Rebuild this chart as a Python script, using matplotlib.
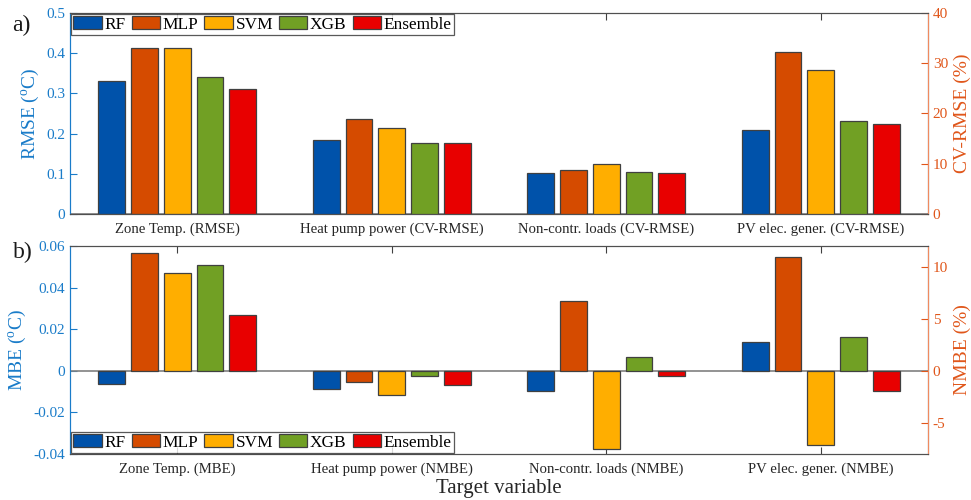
import matplotlib
matplotlib.use('Agg')
import matplotlib.pyplot as plt
import numpy as np

plt.rcParams['font.family'] = ['Liberation Serif', 'DejaVu Serif']
plt.rcParams['mathtext.fontset'] = 'custom'
plt.rcParams['mathtext.rm'] = 'Liberation Serif'
plt.rcParams['mathtext.it'] = 'Liberation Serif:italic'
plt.rcParams['axes.unicode_minus'] = False

models = ['RF', 'MLP', 'SVM', 'XGB', 'Ensemble']
colors = ['#0052AA', '#D54B00', '#FFAE00', '#71A024', '#E80000']

cats_a = ['Zone Temp. (RMSE)', 'Heat pump power (CV-RMSE)',
          'Non-contr. loads (CV-RMSE)', 'PV elec. gener. (CV-RMSE)']
cats_b = ['Zone Temp. (MBE)', 'Heat pump power (NMBE)',
          'Non-contr. loads (NMBE)', 'PV elec. gener. (NMBE)']

# a) zone temp RMSE in degC (left axis), others CV-RMSE in % (right axis)
rmse_zone = [0.332, 0.413, 0.413, 0.340, 0.311]
cvrmse_hp = [14.7, 19.0, 17.1, 14.2, 14.2]
cvrmse_load = [8.2, 8.8, 9.95, 8.3, 8.1]
cvrmse_pv = [16.7, 32.2, 28.6, 18.5, 17.9]

# b) zone temp MBE in degC (left axis), others NMBE in % (right axis)
mbe_zone = [-0.0064, 0.0565, 0.0472, 0.0507, 0.0267]
nmbe_hp = [-1.73, -1.12, -2.34, -0.54, -1.35]
nmbe_load = [-1.92, 6.71, -7.51, 1.31, -0.48]
nmbe_pv = [2.78, 10.9, -7.16, 3.23, -1.98]

yt_a = [0, 0.1, 0.2, 0.3, 0.4, 0.5]
yt_a_lbl = ['0', '0.1', '0.2', '0.3', '0.4', '0.5']
yt_a2 = [0, 10, 20, 30, 40]
yt_b = [-0.04, -0.02, 0, 0.02, 0.04, 0.06]
yt_b_lbl = ['-0.04', '-0.02', '0', '0.02', '0.04', '0.06']
yt_b2 = [-5, 0, 5, 10]

BLUE = '#1A7CC9'
ORANGE = '#E0561A'
EDGE = '#404040'

fig = plt.figure(figsize=(9.71, 5.0), dpi=100)
ax_a = fig.add_axes([0.0721, 0.572, 0.8836, 0.402])
ax_b = fig.add_axes([0.0721, 0.092, 0.8836, 0.416])

x = np.arange(1, 5)
step = 0.153
width = 0.125


def draw_panel(ax, left_vals, right_sets, cats, ylim_l, ylim_r, yticks_l, ylbls_l,
               yticks_r, ylabel_l, ylabel_r, legend_loc):
    ax2 = ax.twinx()
    handles = []
    for i, m in enumerate(models):
        off = (i - 2) * step
        h = ax.bar(x[0] + off, left_vals[i], width, color=colors[i],
                   edgecolor=EDGE, linewidth=0.9, label=m, zorder=3)
        handles.append(h)
        rv = [s[i] for s in right_sets]
        ax2.bar(x[1:] + off, rv, width, color=colors[i],
                edgecolor=EDGE, linewidth=0.9, zorder=3)
    ax.set_xlim(0.5, 4.5)
    ax.set_ylim(*ylim_l)
    ax2.set_ylim(*ylim_r)
    ax.set_yticks(yticks_l)
    ax.set_yticklabels(ylbls_l)
    ax2.set_yticks(yticks_r)
    ax.set_xticks(x)
    ax.set_xticklabels(cats, fontsize=10.6)
    ax.tick_params(axis='x', direction='in', length=5, top=True, color='#404040',
                   pad=6, colors='#262626')
    ax.tick_params(axis='y', direction='in', length=5, colors=BLUE, labelsize=11)
    ax2.tick_params(axis='y', direction='in', length=5, colors=ORANGE, labelsize=11)
    ax.set_ylabel(ylabel_l, color=BLUE, fontsize=14, labelpad=4)
    ax2.set_ylabel(ylabel_r, color=ORANGE, fontsize=14, labelpad=4)
    for sp in ['top', 'bottom']:
        ax2.spines[sp].set_color('#505050')
        ax.spines[sp].set_color('#505050')
    ax2.spines['left'].set_color(BLUE)
    ax2.spines['right'].set_color('#F08A60')
    ax.spines['left'].set_color(BLUE)
    ax.axhline(0, color='#808080', linewidth=1.2, zorder=2)
    leg = ax2.legend(handles=handles, loc=legend_loc, ncol=5, fontsize=12.4,
                     frameon=True, fancybox=False, edgecolor='#303030',
                     borderaxespad=0.05, handlelength=1.65, handleheight=0.75,
                     handletextpad=0.15, columnspacing=0.35, borderpad=0.15)
    leg.get_frame().set_linewidth(0.9)
    return ax2


draw_panel(ax_a, rmse_zone, [cvrmse_hp, cvrmse_load, cvrmse_pv], cats_a,
           (0, 0.5), (0, 40), yt_a, yt_a_lbl, yt_a2,
           r'RMSE ($^{\rm o}$C)', 'CV-RMSE (%)', 'upper left')
draw_panel(ax_b, mbe_zone, [nmbe_hp, nmbe_load, nmbe_pv], cats_b,
           (-0.04, 0.06), (-8, 12), yt_b, yt_b_lbl, yt_b2,
           r'MBE ($^{\rm o}$C)', 'NMBE (%)', 'lower left')

ax_b.set_xlabel('Target variable', fontsize=15, color='#262626', labelpad=2)

fig.text(0.013, 0.937, 'a)', fontsize=17, color='#1a1a1a')
fig.text(0.013, 0.483, 'b)', fontsize=17, color='#1a1a1a')

fig.savefig('out.png', dpi=100)
